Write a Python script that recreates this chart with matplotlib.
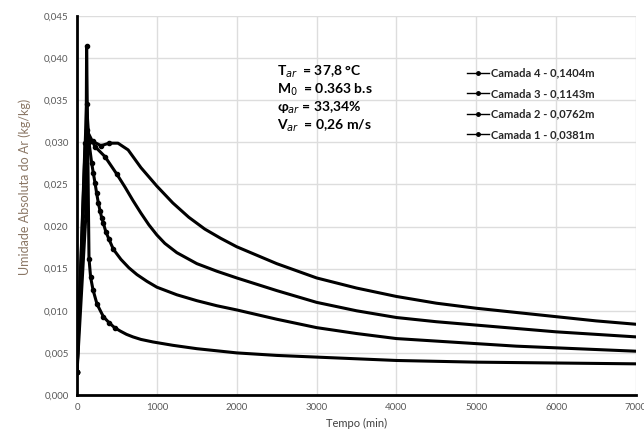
import matplotlib.pyplot as plt
from matplotlib.ticker import FuncFormatter, MultipleLocator

plt.rcParams['font.family'] = ['Lato', 'DejaVu Sans']

# Camada 1 - 0,0381m
t1 = [0, 110, 120, 150, 170, 200, 250, 330, 400, 470, 540, 620, 700, 800, 950, 1200, 1500, 2000, 2500, 3000,
      3500, 4000, 5000, 6000, 7000]
u1 = [0.0027, 0.0212, 0.0414, 0.0162, 0.0140, 0.0125, 0.0108, 0.0093, 0.0086, 0.0080, 0.0076, 0.0072, 0.0069,
      0.0066, 0.0063, 0.0059, 0.0055, 0.0050, 0.0047, 0.0045, 0.0043, 0.0041, 0.0039, 0.0038, 0.0037]

# Camada 2 - 0,0762m
t2 = [0, 120, 150, 184, 205, 225, 245, 267, 290, 310, 330, 360, 400, 455, 550, 650, 750, 875, 1000, 1250, 1500,
      1750, 2000, 2500, 3000, 3500, 4000, 4500, 5000, 5500, 6000, 6500, 7000]
u2 = [0.0027, 0.0345, 0.0300, 0.0275, 0.0263, 0.0252, 0.0240, 0.0228, 0.0218, 0.0210, 0.0204, 0.0194, 0.0185,
      0.0173, 0.0161, 0.0151, 0.0143, 0.0135, 0.0128, 0.0119, 0.0112, 0.0106, 0.0101, 0.0090, 0.0080, 0.0073,
      0.0067, 0.0064, 0.0061, 0.0058, 0.0056, 0.0054, 0.0052]

# Camada 3 - 0,1143m
t3 = [0, 120, 225, 350, 500, 600, 700, 800, 900, 1000, 1100, 1250, 1500, 1750, 2000, 2500, 3000, 3500, 4000,
      4500, 5000, 5500, 6000, 6500, 7000]
u3 = [0.0027, 0.0315, 0.0295, 0.0283, 0.0262, 0.0247, 0.0231, 0.0216, 0.0202, 0.0190, 0.0180, 0.0169, 0.0156,
      0.0147, 0.0139, 0.0124, 0.0110, 0.0100, 0.0092, 0.0087, 0.0083, 0.0079, 0.0075, 0.0072, 0.0069]

# Camada 4 - 0,1404m
t4 = [0, 100, 200, 300, 400, 513, 640, 800, 1000, 1200, 1400, 1600, 1800, 2000, 2500, 3000, 3500, 4000, 4500,
      5000, 5500, 6000, 6500, 7000]
u4 = [0.0027, 0.0299, 0.0301, 0.0296, 0.0299, 0.0299, 0.0291, 0.0270, 0.0248, 0.0228, 0.0211, 0.0197, 0.0186,
      0.0176, 0.0156, 0.0139, 0.0127, 0.0117, 0.0109, 0.0103, 0.0098, 0.0093, 0.0088, 0.0084]

series = [
    (t4, u4, 'Camada 4 - 0,1404m'),
    (t3, u3, 'Camada 3 - 0,1143m'),
    (t2, u2, 'Camada 2 - 0,0762m'),
    (t1, u1, 'Camada 1 - 0,0381m'),
]

fig = plt.figure(figsize=(6.44, 4.37), dpi=100)
ax = fig.add_axes([0.1196, 0.0961, 0.8680, 0.8673])

for t, u, lab in series:
    early = [i for i, v in enumerate(t) if v <= 500]
    ax.plot(t, u, color='black', lw=2.2, marker='o', markersize=3, markevery=early, label=lab)

ax.set_xlim(0, 7000)
ax.set_ylim(0, 0.045)
ax.xaxis.set_major_locator(MultipleLocator(1000))
ax.yaxis.set_major_locator(MultipleLocator(0.005))
ax.yaxis.set_major_formatter(FuncFormatter(lambda v, p: f'{v:.3f}'.replace('.', ',')))
ax.grid(True, color='#dddddd', lw=1)
ax.set_axisbelow(True)
for s in ['top', 'right']:
    ax.spines[s].set_visible(False)
for s in ['left', 'bottom']:
    ax.spines[s].set_linewidth(2)
ax.tick_params(length=0, labelsize=7, colors='#595959', pad=6)

ax.set_xlabel('Tempo (min)', fontsize=8, color='#404040', labelpad=4)
ax.set_ylabel('Umidade Absoluta do Ar (kg/kg)', fontsize=9, color='#8b7765')
ax.yaxis.set_label_coords(-0.083, 0.55)

info = ['T$_{ar}$  = 37,8 °C', 'M$_0$  = 0.363 b.s', 'φ$_{ar}$ = 33,34%', 'V$_{ar}$  = 0,26 m/s']
for i, line in enumerate(info):
    fig.text(277 / 644, 1 - (72 + i * 18) / 437, line, fontsize=10, fontweight='bold', va='center')

leg = ax.legend(loc='upper left', bbox_to_anchor=(0.69, 0.875), frameon=False, fontsize=8,
                handlelength=2.0, handletextpad=0.1, labelspacing=0.85, borderaxespad=0)
for h in leg.legend_handles:
    h.set_linewidth(1)
    h.set_markersize(2.5)
for txt in leg.get_texts():
    txt.set_fontweight('bold')
    txt.set_color('#262626')

fig.text(40 / 644, 1 + 3 / 437, 'Variação da umidade absoluta do ar em função do tempo', fontsize=12.5,
         fontweight='bold', va='baseline')

fig.savefig('out.png', dpi=100)
